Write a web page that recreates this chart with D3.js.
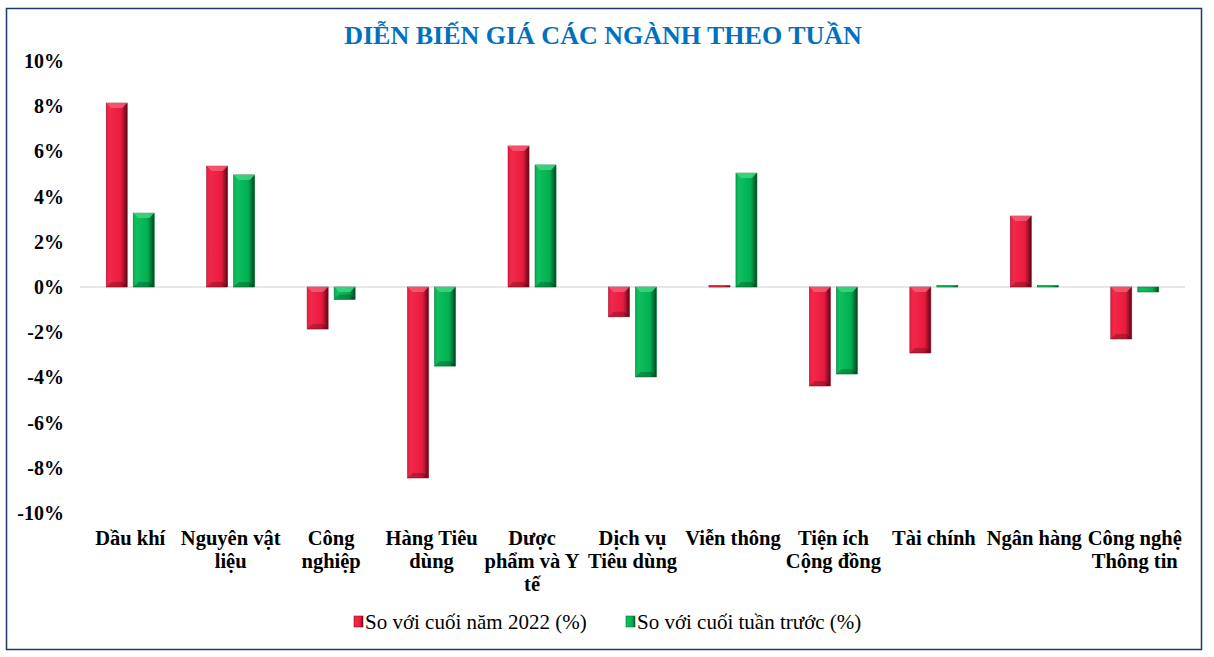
<!DOCTYPE html>
<html>
<head>
<meta charset="utf-8">
<script src="https://cdn.jsdelivr.net/npm/d3@7"></script>
<style>
	body { margin:0; background:#fff; font-family:"Liberation Serif","Times New Roman",serif; }
	svg { display:block; }
</style>
</head>
<body>
<div id="chart"></div>
<script>
	// data
	var categories = ["Dầu khí","Nguyên vật liệu","Công nghiệp","Hàng Tiêu dùng","Dược phẩm và Y tế","Dịch vụ Tiêu dùng","Viễn thông","Tiện ích Cộng đồng","Tài chính","Ngân hàng","Công nghệ Thông tin"];
	var labelLines = [["Dầu khí"],["Nguyên vật","liệu"],["Công","nghiệp"],["Hàng Tiêu","dùng"],["Dược","phẩm và Y","tế"],["Dịch vụ","Tiêu dùng"],["Viễn thông"],["Tiện ích","Cộng đồng"],["Tài chính"],["Ngân hàng"],["Công nghệ","Thông tin"]];
	var seriesNames = ["So với cuối năm 2022 (%)","So với cuối tuần trước (%)"];
	var ytd = [8.14, 5.35, -1.86, -8.45, 6.24, -1.32, 0.05, -4.38, -2.92, 3.14, -2.30];
	var wow = [3.27, 4.96, -0.55, -3.50, 5.40, -3.98, 5.04, -3.85, 0.06, 0.04, -0.22];
	var yTicks = [10, 8, 6, 4, 2, 0, -2, -4, -6, -8, -10];

	var width = 1214, height = 657;
	var plot = {left:80, right:1185, top:61, bottom:513};

	var svg = d3.select("#chart").append("svg")
		.attr("width", width)
		.attr("height", height);

	var defs = svg.append("defs");
	function grad(id, light, mid, dark){
		var g = defs.append("linearGradient").attr("id", id)
			.attr("x1","0%").attr("x2","100%").attr("y1","0%").attr("y2","0%");
		g.append("stop").attr("offset","0%").attr("stop-color", mid);
		g.append("stop").attr("offset","15%").attr("stop-color", light);
		g.append("stop").attr("offset","70%").attr("stop-color", mid);
		g.append("stop").attr("offset","85%").attr("stop-color", d3.interpolateRgb(mid, dark)(0.5));
		g.append("stop").attr("offset","100%").attr("stop-color", dark);
	}
	grad("gRed", "#f2284a", "#e81b3d", "#5c0616");
	grad("gGreen", "#10c060", "#00b050", "#03401f");
	var colors = ["url(#gRed)", "url(#gGreen)"];
	var tops = ["#f55a74", "#3fd685"];
	var edges = ["#9e1028", "#057a38"];

	// frame
	svg.append("rect")
		.attr("x", 6.5).attr("y", 8.5)
		.attr("width", 1195).attr("height", 641)
		.attr("fill", "none")
		.attr("stroke", "#1f3864")
		.attr("stroke-width", 1.5);

	svg.append("text")
		.attr("x", 603).attr("y", 44)
		.attr("text-anchor", "middle")
		.attr("font-size", 26)
		.attr("font-weight", "bold")
		.attr("fill", "#0070c0")
		.text("DIỄN BIẾN GIÁ CÁC NGÀNH THEO TUẦN");

	var x = d3.scaleBand()
		.domain(categories)
		.range([plot.left, plot.right]);

	var y = d3.scaleLinear()
		.domain([-10, 10])
		.range([plot.bottom, plot.top]);

	// y axis labels
	var yAxis = d3.axisLeft(y)
		.tickValues(yTicks)
		.tickSize(0)
		.tickPadding(0)
		.tickFormat(function(d){ return d + "%"; });
	var yg = svg.append("g")
		.attr("transform", "translate(64,0)")
		.call(yAxis);
	yg.select(".domain").remove();
	yg.selectAll("text")
		.attr("font-family", "Liberation Serif, Times New Roman, serif")
		.attr("font-size", 20)
		.attr("font-weight", "bold")
		.attr("fill", "#000");

	// zero line
	svg.append("line")
		.attr("x1", plot.left).attr("x2", plot.right)
		.attr("y1", y(0)).attr("y2", y(0))
		.attr("stroke", "#d0d0d0")
		.attr("stroke-width", 1.2);

	var barW = 21, gap = 6;
	var series = [ytd, wow];

	series.forEach(function(vals, s){
		var g = svg.append("g");
		var off = s == 0 ? -(gap/2 + barW) : gap/2;
		var bx = function(d,i){ return x(categories[i]) + x.bandwidth()/2 + off; };
		var bh = function(d){ return Math.max(1.5, Math.abs(y(d) - y(0))); };

		g.selectAll("rect.bar")
			.data(vals)
			.enter()
			.append("rect")
			.attr("class", "bar")
			.attr("x", bx)
			.attr("y", function(d){ return d >= 0 ? y(0) - bh(d) : y(0); })
			.attr("width", barW)
			.attr("height", bh)
			.attr("fill", colors[s])
			.attr("stroke", edges[s])
			.attr("stroke-width", 0.6);

		// top bevel
		g.selectAll("path.bevel")
			.data(vals)
			.enter()
			.append("path")
			.attr("class", "bevel")
			.attr("d", function(d,i){
				var h = bh(d);
				if(h < 8) return "";
				var x0 = bx(d,i), y0 = d >= 0 ? y(0) - h : y(0), b = 5;
				return "M" + x0 + "," + y0 + "L" + (x0+barW) + "," + y0 +
					"L" + (x0+barW-b) + "," + (y0+b) + "L" + (x0+b) + "," + (y0+b) + "Z";
			})
			.attr("fill", tops[s])
			.attr("opacity", 0.85);

		// bottom bevel
		g.selectAll("path.bevel2")
			.data(vals)
			.enter()
			.append("path")
			.attr("class", "bevel2")
			.attr("d", function(d,i){
				var h = bh(d);
				if(h < 8) return "";
				var x0 = bx(d,i), y1 = (d >= 0 ? y(0) - h : y(0)) + h, b = 5;
				return "M" + x0 + "," + y1 + "L" + (x0+barW) + "," + y1 +
					"L" + (x0+barW-b) + "," + (y1-b) + "L" + (x0+b) + "," + (y1-b) + "Z";
			})
			.attr("fill", "#000")
			.attr("opacity", 0.22);
	});

	// category labels
	var lab = svg.append("g");
	labelLines.forEach(function(lines, i){
		var t = lab.append("text")
			.attr("x", x(categories[i]) + x.bandwidth()/2)
			.attr("y", 545)
			.attr("text-anchor", "middle")
			.attr("font-size", 20.5)
			.attr("font-weight", "bold")
			.attr("fill", "#000");
		lines.forEach(function(l, j){
			t.append("tspan")
				.attr("x", x(categories[i]) + x.bandwidth()/2)
				.attr("dy", j == 0 ? 0 : 23)
				.text(l);
		});
	});

	// legend
	var legX = [354, 626];
	seriesNames.forEach(function(n, s){
		var lg = svg.append("g").attr("transform", "translate(" + legX[s] + ",616)");
		lg.append("rect")
			.attr("width", 9).attr("height", 11)
			.attr("fill", colors[s])
			.attr("stroke", edges[s])
			.attr("stroke-width", 0.6);
		lg.append("text")
			.attr("x", 11).attr("y", 13)
			.attr("font-size", 21)
			.attr("fill", "#000")
			.text(n);
	});
</script>
</body>
</html>
